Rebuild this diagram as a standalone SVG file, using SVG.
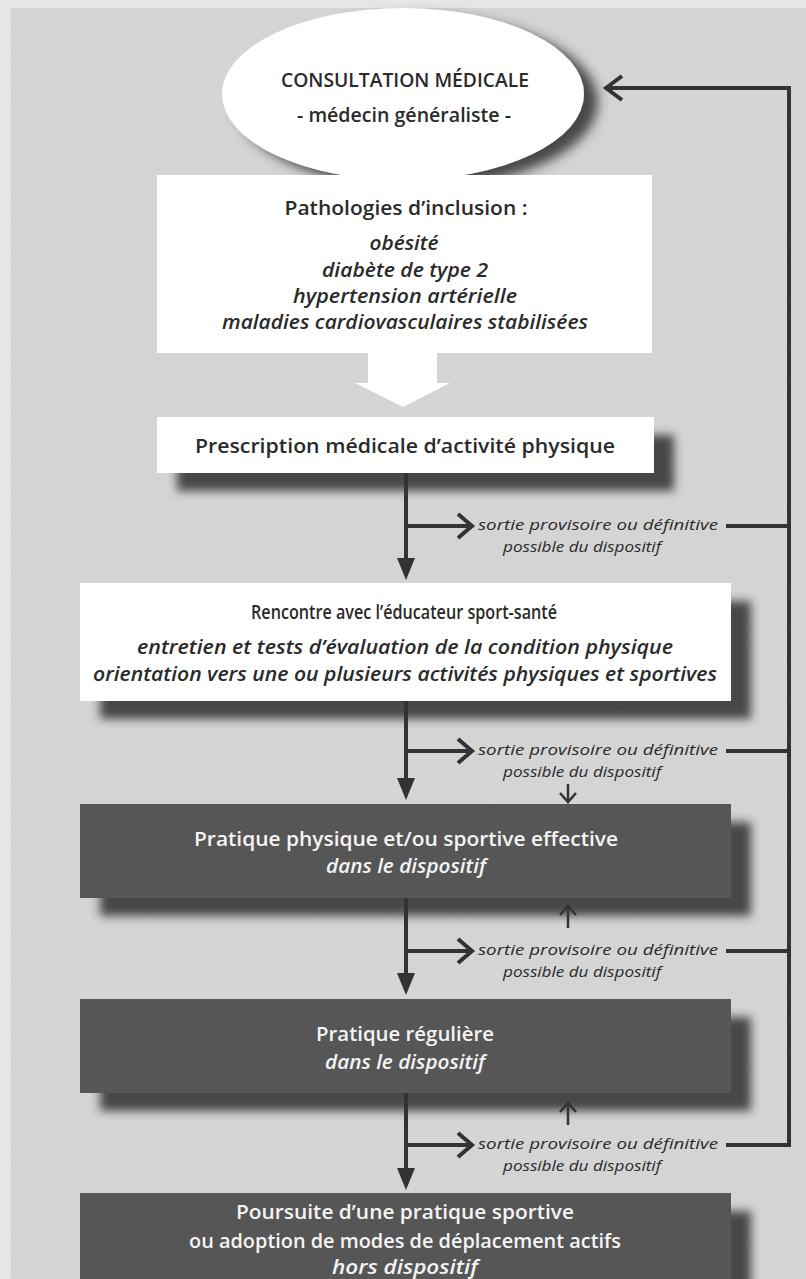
<svg xmlns="http://www.w3.org/2000/svg" width="806" height="1279" viewBox="0 0 806 1279">
<defs>
<style>
.t{font-family:"Open Sans","Noto Sans","Liberation Sans",sans-serif;text-anchor:middle;fill:#2a2a2a}
.b{font-weight:600;font-size:19px}
.i{font-style:italic;font-weight:600;font-size:20px}
.s{font-family:"Open Sans","Noto Sans","Liberation Sans",sans-serif;font-style:italic;font-size:15px;fill:#2a2a2a}
.w{fill:#f4f4f4}
.box{fill:#ffffff}
.dark{fill:#575757}
.ln{stroke:#333;stroke-width:4;fill:none}
.chev{stroke:#333;stroke-width:4;fill:none;stroke-linejoin:miter}
.thin{stroke:#333;stroke-width:2.5;fill:none}
.head{fill:#333}
</style>
<filter id="sh" x="-10%" y="-30%" width="130%" height="190%">
<feDropShadow dx="20" dy="18" stdDeviation="5" flood-color="#2e2e2e" flood-opacity="0.85"/>
</filter>
<filter id="esh" x="-20%" y="-20%" width="150%" height="150%">
<feDropShadow dx="14" dy="8" stdDeviation="6" flood-color="#2e2e2e" flood-opacity="0.85"/>
</filter>
<filter id="noise" x="0" y="0" width="100%" height="100%">
<feTurbulence type="fractalNoise" baseFrequency="0.9" numOctaves="1" seed="3"/>
<feColorMatrix type="matrix" values="0 0 0 0 0.5  0 0 0 0 0.5  0 0 0 0 0.5  0 0 0 0.35 0"/>
</filter>
</defs>
<rect x="0" y="0" width="806" height="1279" fill="#e6e6e6"/>
<rect x="11" y="8" width="795" height="1271" fill="#d7d7d7"/>
<rect x="11" y="8" width="795" height="1271" filter="url(#noise)" opacity="0.5"/>

<g id="consultation">
<ellipse cx="403" cy="94" rx="181" ry="86" class="box" filter="url(#esh)"/>
<text class="t b" x="405" y="87" font-size="20" textLength="248" lengthAdjust="spacingAndGlyphs">CONSULTATION MÉDICALE</text>
<text class="t b" x="404" y="122" font-size="20" textLength="214" lengthAdjust="spacingAndGlyphs">- médecin généraliste -</text>
</g>

<g id="pathologies">
<rect x="157" y="175" width="495" height="178" class="box"/>
<text class="t b" x="406" y="215" textLength="243" lengthAdjust="spacingAndGlyphs">Pathologies d’inclusion :</text>
<text class="t i" x="404" y="250" textLength="69" lengthAdjust="spacingAndGlyphs">obésité</text>
<text class="t i" x="405" y="277" textLength="166" lengthAdjust="spacingAndGlyphs">diabète de type 2</text>
<text class="t i" x="405" y="303" textLength="224" lengthAdjust="spacingAndGlyphs">hypertension artérielle</text>
<text class="t i" x="405" y="329" textLength="366" lengthAdjust="spacingAndGlyphs">maladies cardiovasculaires stabilisées</text>
<polygon points="368,352 437,352 437,383 450,383 403,407 355,383 368,383" class="box"/>
</g>

<g id="prescription">
<rect x="157" y="417" width="497" height="56" class="box" filter="url(#sh)"/>
<text class="t b" x="405" y="453" textLength="420" lengthAdjust="spacingAndGlyphs">Prescription médicale d’activité physique</text>
</g>

<g id="rencontre">
<rect x="80" y="583" width="651" height="118" class="box" filter="url(#sh)"/>
<text class="t b" x="404" y="619" textLength="306" lengthAdjust="spacingAndGlyphs">Rencontre avec l’éducateur sport-santé</text>
<text class="t i" x="405" y="654" textLength="536" lengthAdjust="spacingAndGlyphs">entretien et tests d’évaluation de la condition physique</text>
<text class="t i" x="405" y="681" textLength="624" lengthAdjust="spacingAndGlyphs">orientation vers une ou plusieurs activités physiques et sportives</text>
</g>

<g id="pratique-effective">
<rect x="80" y="804" width="651" height="94" class="dark" filter="url(#sh)"/>
<text class="t b w" x="406" y="846" textLength="424" lengthAdjust="spacingAndGlyphs">Pratique physique et/ou sportive effective</text>
<text class="t i w" x="406" y="873" textLength="160" lengthAdjust="spacingAndGlyphs">dans le dispositif</text>
</g>

<g id="pratique-reguliere">
<rect x="80" y="999" width="651" height="94" class="dark" filter="url(#sh)"/>
<text class="t b w" x="405" y="1041" textLength="178" lengthAdjust="spacingAndGlyphs">Pratique régulière</text>
<text class="t i w" x="405" y="1069" textLength="160" lengthAdjust="spacingAndGlyphs">dans le dispositif</text>
</g>

<g id="poursuite">
<rect x="80" y="1193" width="651" height="100" class="dark" filter="url(#sh)"/>
<text class="t b w" x="405" y="1219" textLength="338" lengthAdjust="spacingAndGlyphs">Poursuite d’une pratique sportive</text>
<text class="t b w" x="405" y="1248" textLength="432" lengthAdjust="spacingAndGlyphs">ou adoption de modes de déplacement actifs</text>
<text class="t i w" x="405" y="1274" textLength="146" lengthAdjust="spacingAndGlyphs">hors dispositif</text>
</g>

<g id="connectors">
<polyline class="ln" points="726,1145 789,1145 789,88 608,88"/>
<line class="ln" x1="726" y1="951" x2="789" y2="951"/>
<line class="ln" x1="726" y1="751" x2="789" y2="751"/>
<line class="ln" x1="726" y1="526" x2="789" y2="526"/>
<polyline class="chev" points="622,76 606,88 622,100"/>

<line class="ln" x1="406" y1="473" x2="406" y2="560"/>
<polygon class="head" points="397,558 415,558 406,580"/>
<line class="ln" x1="406" y1="526" x2="469" y2="526"/>
<polyline class="chev" points="458,514 472,526 458,538"/>
<text class="s" x="478" y="530" textLength="240" lengthAdjust="spacingAndGlyphs">sortie provisoire ou définitive</text>
<text class="s" x="582" y="552" text-anchor="middle" textLength="158" lengthAdjust="spacingAndGlyphs">possible du dispositif</text>

<line class="ln" x1="406" y1="701" x2="406" y2="780"/>
<polygon class="head" points="397,778 415,778 406,800"/>
<line class="ln" x1="406" y1="751" x2="469" y2="751"/>
<polyline class="chev" points="458,739 472,751 458,763"/>
<text class="s" x="478" y="755" textLength="240" lengthAdjust="spacingAndGlyphs">sortie provisoire ou définitive</text>
<text class="s" x="582" y="777" text-anchor="middle" textLength="158" lengthAdjust="spacingAndGlyphs">possible du dispositif</text>
<line class="thin" x1="568" y1="784" x2="568" y2="801"/>
<polyline class="thin" points="560,793 568,802 576,793"/>

<line class="ln" x1="406" y1="898" x2="406" y2="975"/>
<polygon class="head" points="397,973 415,973 406,995"/>
<line class="ln" x1="406" y1="951" x2="469" y2="951"/>
<polyline class="chev" points="458,939 472,951 458,963"/>
<text class="s" x="478" y="955" textLength="240" lengthAdjust="spacingAndGlyphs">sortie provisoire ou définitive</text>
<text class="s" x="582" y="977" text-anchor="middle" textLength="158" lengthAdjust="spacingAndGlyphs">possible du dispositif</text>
<line class="thin" x1="568" y1="907" x2="568" y2="928"/>
<polyline class="thin" points="560,915 568,906 576,915"/>

<line class="ln" x1="406" y1="1093" x2="406" y2="1170"/>
<polygon class="head" points="397,1168 415,1168 406,1190"/>
<line class="ln" x1="406" y1="1145" x2="469" y2="1145"/>
<polyline class="chev" points="458,1133 472,1145 458,1157"/>
<text class="s" x="478" y="1149" textLength="240" lengthAdjust="spacingAndGlyphs">sortie provisoire ou définitive</text>
<text class="s" x="582" y="1171" text-anchor="middle" textLength="158" lengthAdjust="spacingAndGlyphs">possible du dispositif</text>
<line class="thin" x1="568" y1="1104" x2="568" y2="1125"/>
<polyline class="thin" points="560,1112 568,1103 576,1112"/>
</g>
</svg>
